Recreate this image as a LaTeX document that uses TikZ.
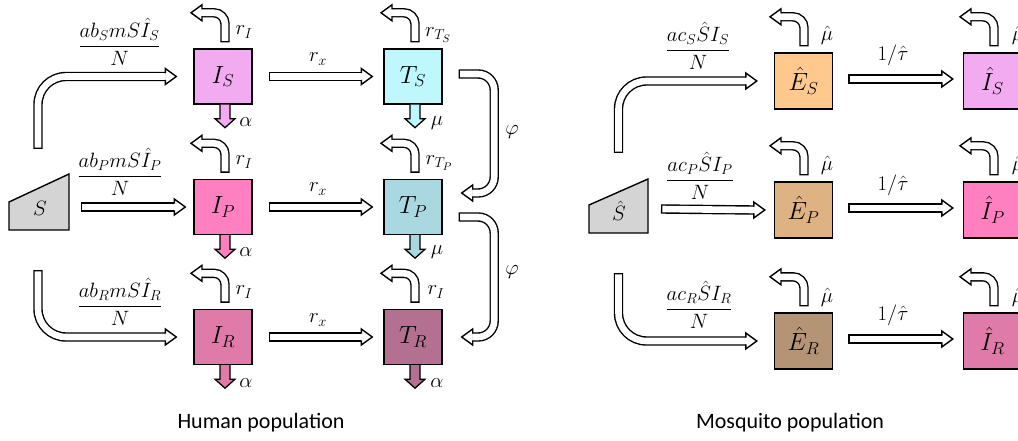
\documentclass[tikz,border=0pt]{standalone}
\usepackage[no-math]{fontspec}
\newfontfamily\calibri{Carlito}
\usetikzlibrary{calc}
\definecolor{cIS}{RGB}{242,170,240}
\definecolor{cTS}{RGB}{190,248,252}
\definecolor{cIP}{RGB}{255,128,192}
\definecolor{cTP}{RGB}{170,216,224}
\definecolor{cIR}{RGB}{224,122,168}
\definecolor{cTR}{RGB}{180,112,144}
\definecolor{cES}{RGB}{255,200,140}
\definecolor{cEP}{RGB}{222,178,130}
\definecolor{cER}{RGB}{180,148,116}
\definecolor{cS}{RGB}{212,212,212}
\newcommand\mfnt{\fontsize{22}{26}\selectfont}
\newcommand\bfnt{\fontsize{24}{28}\selectfont}
\tikzset{
  box/.style={draw, line width=1.4pt, minimum width=58pt, minimum height=55pt, inner sep=0pt, font=\bfnt},
  lbl/.style={inner sep=0pt, font=\mfnt},
  titletext/.style={inner sep=0pt, font=\calibri\fontsize{22}{26}\selectfont},
}
% shaft of a block arrow
\newcommand\pipe[2][]{%
  \draw[line width=9.4pt,#1] #2;
  \draw[white,line width=6.6pt,shorten <=1.4pt,#1] #2;}
% head of a block arrow: tip, direction angle
\newcommand\ahead[3][white]{%
  \begin{scope}[shift={#2},rotate=#3]
    \fill[#1] (0,0) -- (-11,8) -- (-11,-8) -- cycle;
    \draw[line width=1.4pt,line join=miter,line cap=rect] (-11,4) -- (-11,8) -- (0,0) -- (-11,-8) -- (-11,-4);
  \end{scope}}
% loop arrow above a box
\newcommand\loopar[2]{%
  \pipe[rounded corners=11pt]{($(#1.north)+(#2,-6)$) -- ($(#1.north)+(#2,-35.5)$) -- ($(#1.north)+(#2-23,-35.5)$)}
  \ahead{($(#1.north)+(#2-34,-35.5)$)}{180}}
% coloured down arrow below a box
\newcommand\dnarrow[2]{%
  \filldraw[fill=#2,line width=1.3pt,line join=miter]
    ($(#1.south)+(-3,0)$) -- ($(#1.south)+(-3,14)$) -- ($(#1.south)+(-8,14)$) -- ($(#1.south)+(2,23)$)
    -- ($(#1.south)+(12,14)$) -- ($(#1.south)+(7,14)$) -- ($(#1.south)+(7,0)$);}
\begin{document}
\begin{tikzpicture}[x=1pt,y=-1pt]
\useasboundingbox (0,0) rectangle (1018,441);
\clip (0,0) rectangle (1018,441);

% ---------------- Human population ----------------
\filldraw[fill=cS,line width=1.4pt,line join=miter] (9,230) -- (9,202) -- (69,174) -- (69,230) -- cycle;
\node[lbl] (S) at (40,208) {$S$};
\coordinate (Stop) at (38,149);
\coordinate (Sbot) at (38,270);
\coordinate (Sout) at (81,207);

\node[box,fill=cIS] (IS) at (223,76.5) {$I_S$};
\node[box,fill=cTS] (TS) at (413,76.5) {$T_S$};
\node[box,fill=cIP] (IP) at (223,207) {$I_P$};
\node[box,fill=cTP] (TP) at (413,207) {$T_P$};
\node[box,fill=cIR] (IR) at (223,337) {$I_R$};
\node[box,fill=cTR] (TR) at (413,337) {$T_R$};

% infection arrows
\pipe[rounded corners=28pt]{(Stop) |- ([xshift=-28pt]IS.west)}
\ahead{([xshift=-17pt]IS.west)}{0}
\pipe{(Sout) -- ([xshift=-19pt]IP.west)}
\ahead{([xshift=-8pt]IP.west)}{0}
\pipe[rounded corners=28pt]{(Sbot) |- ([xshift=-28pt]IR.west)}
\ahead{([xshift=-17pt]IR.west)}{0}

\node[lbl] (fS) at (119.5,42) {$\displaystyle\frac{ab_S mS\hat{I}_S}{N}$};
\node[lbl] (fP) at (120,172) {$\displaystyle\frac{ab_P mS\hat{I}_P}{N}$};
\node[lbl] (fR) at (120,302) {$\displaystyle\frac{ab_R mS\hat{I}_R}{N}$};

% treatment arrows
\pipe{([xshift=16pt]IS.east) -- ([xshift=-22pt]TS.west)}
\ahead{([xshift=-11pt]TS.west)}{0}
\pipe{([xshift=16pt]IP.east) -- ([xshift=-22pt]TP.west)}
\ahead{([xshift=-11pt]TP.west)}{0}
\pipe{([xshift=16pt]IR.east) -- ([xshift=-22pt]TR.west)}
\ahead{([xshift=-11pt]TR.west)}{0}
\node[lbl] (rx1) at (318,59) {$r_x$};
\node[lbl] (rx2) at (318,189) {$r_x$};
\node[lbl] (rx3) at (318,320) {$r_x$};

% recovery loops
\loopar{IS}{2}\loopar{TS}{2}
\loopar{IP}{2}\loopar{TP}{2}
\loopar{IR}{2}\loopar{TR}{2}
\node[lbl] (lIS) at (244,32) {$r_I$};
\node[lbl] (lTS) at (438,35) {$r_{T_S}$};
\node[lbl] (lIP) at (244,162) {$r_I$};
\node[lbl] (lTP) at (439,163) {$r_{T_P}$};
\node[lbl] (lIR) at (244,292) {$r_I$};
\node[lbl] (lTR) at (436,292) {$r_I$};

% death arrows
\dnarrow{IS}{cIS}\dnarrow{TS}{cTS}
\dnarrow{IP}{cIP}\dnarrow{TP}{cTP}
\dnarrow{IR}{cIR}\dnarrow{TR}{cTR}
\node[lbl] (aIS) at (246,122) {$\alpha$};
\node[lbl] (mTS) at (437,123) {$\mu$};
\node[lbl] (aIP) at (246,252) {$\alpha$};
\node[lbl] (mTP) at (437,252) {$\mu$};
\node[lbl] (aIR) at (246,383) {$\alpha$};
\node[lbl] (aTR) at (437,383) {$\alpha$};

% resistance arrows
\pipe[rounded corners=16pt]{([xshift=16pt,yshift=2.5pt]TS.east) -- ++(35.5,0) |- ([xshift=30pt,yshift=14pt]TP.east)}
\ahead{([xshift=19pt,yshift=14pt]TP.east)}{180}
\pipe[rounded corners=16pt]{([xshift=16pt,yshift=-10pt]TP.east) -- ++(35.5,0) |- ([xshift=30pt]TR.east)}
\ahead{([xshift=19pt]TR.east)}{180}
\node[lbl] (ph1) at (512,132) {$\varphi$};
\node[lbl] (ph2) at (512,272) {$\varphi$};

\node[titletext] (th) at (261,423) {Human population};

% ---------------- Mosquito population ----------------
\filldraw[fill=cS,line width=1.4pt,line join=miter] (589,233) -- (589,205) -- (648,179) -- (648,233) -- cycle;
\node[lbl] (Sh) at (619,211) {$\hat{S}$};
\coordinate (Mtop) at (618.5,153);
\coordinate (Mbot) at (618.5,273);
\coordinate (Mout) at (661,209);

\node[box,fill=cES,minimum height=56pt] (ES) at (803.5,81) {$\hat{E}_S$};
\node[box,fill=cIS,minimum height=56pt] (JS) at (992.5,81) {$\hat{I}_S$};
\node[box,fill=cEP,minimum height=56pt] (EP) at (803.5,210) {$\hat{E}_P$};
\node[box,fill=cIP,minimum height=56pt] (JP) at (992.5,210) {$\hat{I}_P$};
\node[box,fill=cER,minimum height=56pt] (ER) at (803.5,341) {$\hat{E}_R$};
\node[box,fill=cIR,minimum height=56pt] (JR) at (992.5,341) {$\hat{I}_R$};

\pipe[rounded corners=28pt]{(Mtop) |- ([xshift=-28pt]ES.west)}
\ahead{([xshift=-17pt]ES.west)}{0}
\pipe{(Mout) -- ([xshift=-20pt]EP.west)}
\ahead{([xshift=-9pt]EP.west)}{0}
\pipe[rounded corners=28pt]{(Mbot) |- ([xshift=-28pt]ER.west)}
\ahead{([xshift=-17pt]ER.west)}{0}

\node[lbl] (gS) at (698,46) {$\displaystyle\frac{ac_S\hat{S}I_S}{N}$};
\node[lbl] (gP) at (700,176) {$\displaystyle\frac{ac_P\hat{S}I_P}{N}$};
\node[lbl] (gR) at (699,305) {$\displaystyle\frac{ac_R\hat{S}I_R}{N}$};

\pipe{([xshift=15pt,yshift=2pt]ES.east) -- ([xshift=-21pt,yshift=2pt]JS.west)}
\ahead{([xshift=-10pt,yshift=2pt]JS.west)}{0}
\pipe{([xshift=15pt,yshift=2pt]EP.east) -- ([xshift=-21pt,yshift=2pt]JP.west)}
\ahead{([xshift=-10pt,yshift=2pt]JP.west)}{0}
\pipe{([xshift=15pt,yshift=2pt]ER.east) -- ([xshift=-21pt,yshift=2pt]JR.west)}
\ahead{([xshift=-10pt,yshift=2pt]JR.west)}{0}
\node[lbl] (t1) at (893,55) {$1/\hat{\tau}$};
\node[lbl] (t2) at (893,185) {$1/\hat{\tau}$};
\node[lbl] (t3) at (893,315) {$1/\hat{\tau}$};

\loopar{ES}{0.5}\loopar{JS}{1.5}
\loopar{EP}{0.5}\loopar{JP}{1.5}
\loopar{ER}{0.5}\loopar{JR}{1.5}
\node[lbl] (mES) at (827,35) {$\hat{\mu}$};
\node[lbl] (mEP) at (827,165) {$\hat{\mu}$};
\node[lbl] (mER) at (827,297) {$\hat{\mu}$};
\node[lbl] (mJS) at (1018,35) {$\hat{\mu}$};
\node[lbl] (mJP) at (1018,165) {$\hat{\mu}$};
\node[lbl] (mJR) at (1018,297) {$\hat{\mu}$};

\node[titletext] (tm) at (790,423) {Mosquito population};
\end{tikzpicture}
\end{document}
